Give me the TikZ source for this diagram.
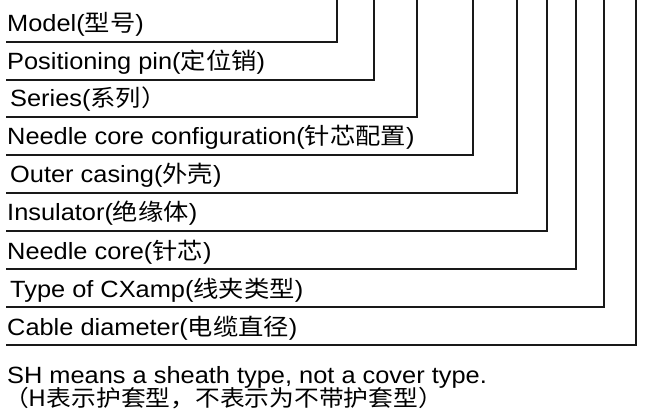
\documentclass[tikz,border=0pt]{standalone}
\usepackage{fontspec}
\setmainfont[FakeStretch=1.08]{Liberation Sans}
\newfontfamily\cjk[FakeStretch=1.1]{Noto Sans CJK SC}
\newcommand\cjktext[1]{{\fontsize{23}{26}\cjk #1}}
\begin{document}
\begin{tikzpicture}[x=1pt,y=-1pt,
  lbl/.style={anchor=base west,inner sep=0pt,font=\fontsize{23.5}{28}\selectfont},
  note/.style={anchor=base west,inner sep=0pt,font=\fontsize{23.5}{28}\selectfont},
  leader/.style={line width=1.4pt,black!90}]
\useasboundingbox (0,0) rectangle (660,419);
% labels
\node[lbl] (model)  at (7,32)  {Model(\cjktext{型号})};
\node[lbl] (pin)    at (7,70)  {Positioning pin(\cjktext{定位销})};
\node[lbl] (series) at (10,107) {Series(\cjktext{系列）}};
\node[lbl] (config) at (7,145) {Needle core configuration(\cjktext{针芯配置})};
\node[lbl] (casing) at (10,183) {Outer casing(\cjktext{外壳})};
\node[lbl] (insul)  at (7,221) {Insulator(\cjktext{绝缘体})};
\node[lbl] (core)   at (7,259) {Needle core(\cjktext{针芯})};
\node[lbl] (clamp)  at (10,297) {Type of CXamp(\cjktext{线夹类型})};
\node[lbl] (cable)  at (7,335) {Cable diameter(\cjktext{电缆直径})};
\node[note] (n1) at (7,383) {SH means a sheath type, not a cover type.};
\node[note,font=\fontsize{22.5}{26}\cjk] (n2) at (4,406) {（H表示护套型，不表示为不带护套型）};
% leader lines
\coordinate (a0) at (6,42);  \coordinate (a1) at (337,0);
\coordinate (b0) at (6,80);  \coordinate (b1) at (374,0);
\coordinate (c0) at (6,117); \coordinate (c1) at (417,0);
\coordinate (d0) at (6,155); \coordinate (d1) at (473,0);
\coordinate (e0) at (6,193); \coordinate (e1) at (517,0);
\coordinate (f0) at (6,231); \coordinate (f1) at (547,0);
\coordinate (g0) at (6,269); \coordinate (g1) at (576,0);
\coordinate (h0) at (6,307); \coordinate (h1) at (604,0);
\coordinate (i0) at (6,345); \coordinate (i1) at (636,0);
\foreach \p in {a,b,c,d,e,f,g,h,i}
  \draw[leader] (\p0) -| (\p1);
\end{tikzpicture}
\end{document}
